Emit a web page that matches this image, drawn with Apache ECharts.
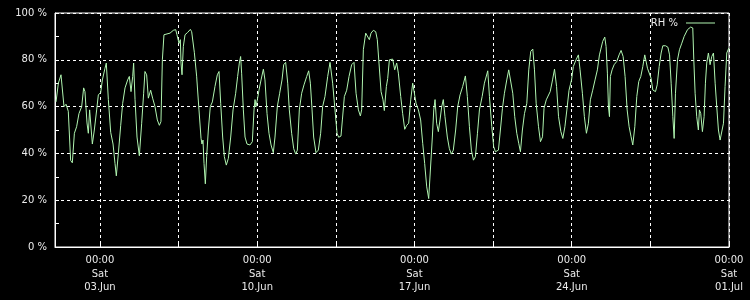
<!DOCTYPE html>
<html>
<head>
<meta charset="utf-8">
<script src="https://cdn.jsdelivr.net/npm/echarts@6/dist/echarts.min.js"></script>
<style>
html,body{margin:0;padding:0;background:#000;}
#chart{width:750px;height:300px;}
</style>
</head>
<body>
<div id="chart"></div>
<script>
// Hours since 2017-06-01 00:00 (UTC-agnostic)
var hours = [
1.1,3.6,6.4,7.8,9.6,11.8,14.2,16.7,18.5,20.7,23.1,25.6,28.5,30.6,32.0,34.2,35.6,37.0,38.1,39.9,
42.0,44.5,46.3,48.8,50.6,53.4,54.8,57.0,59.5,62.0,64.1,65.5,67.7,70.2,72.3,74.8,77.6,79.4,81.2,83.0,
84.0,85.5,87.6,90.1,92.6,94.7,96.1,97.9,99.7,102.2,104.3,106.8,109.3,111.5,113.2,114.7,116.4,118.2,122.9,126.4,
128.9,130.3,132.5,133.9,134.6,135.7,137.1,138.9,141.7,144.6,146.0,148.9,151.3,153.8,156.0,157.0,158.1,159.2,160.6,162.0,
163.8,165.9,168.1,170.9,173.4,175.2,177.0,179.1,180.9,183.0,185.2,187.7,190.2,193.0,195.1,196.9,198.3,199.4,201.2,203.0,
205.1,208.3,210.8,212.6,213.7,214.7,216.2,217.9,220.1,222.6,224.3,226.5,228.6,230.8,233.2,235.0,237.5,240.0,242.5,244.3,
246.4,248.6,250.3,252.8,255.0,257.1,258.9,261.0,263.5,266.0,268.9,271.0,272.8,274.6,276.3,278.8,281.3,283.8,285.9,288.4,
291.3,293.8,294.9,296.6,299.1,301.3,303.0,305.5,307.0,309.1,311.6,314.1,316.9,319.4,321.6,324.1,326.2,327.6,329.4,331.9,
334.0,335.8,337.6,340.1,342.6,344.3,346.1,348.3,350.4,351.8,354.0,355.4,357.2,357.9,360.7,362.9,365.0,366.8,369.3,371.4,
373.6,375.7,377.8,380.0,382.1,383.9,385.7,388.2,390.6,392.8,394.9,397.1,399.2,401.0,403.1,404.6,406.0,407.7,409.5,411.3,
413.1,414.8,416.6,419.1,421.3,423.4,425.5,428.0,430.2,432.7,435.5,438.4,440.5,442.7,444.8,447.0,449.1,451.3,453.4,456.3,
458.7,462.3,464.1,466.6,468.6,470.5,473.7,475.8,478.0,480.1,482.6,484.7,486.8,489.0,491.1,493.3,495.4,497.2,499.3,501.5,
504.0,506.1,508.2,510.4,512.2,514.0,516.5,518.6,520.8,522.4,524.8,526.7,529.0,531.5,533.6,535.8,537.9,540.4,542.5,544.7,
546.8,549.1,551.8,553.7,556.6,559.1,560.9,563.4,565.5,567.7,569.8,571.9,574.4,576.9,579.4,581.6,583.4,585.1,587.3,588.7,
590.1,591.2,592.3,593.3,595.1,597.3,600.1,602.6,604.7,606.9,609.0,611.2,613.3,615.4,617.2,619.4,621.5,623.6,625.8,627.9,
630.0,631.5,632.9,635.0,636.8,638.6,641.5,643.3,645.4,647.5,649.3,652.2,654.7,656.5,658.2,660.0,661.4,662.8,665.0,667.1,
669.6,672.1,675.7,679.1,681.3,682.4,683.8,685.5,687.3,688.4,689.8,691.6,693.4,694.8,696.2,698.0,699.8,701.6,703.4,705.2,
706.9,708.7,710.5,712.3,714.1,715.8,717.6,719.8
];
var rh = [
62,70,73.6,73,60,61,58,37,36,48.6,51.4,57,60,68,66.4,53,48.6,58.6,59,44,
50,58.6,65,66,71.4,76.4,78.6,63,49,44,35.7,30.4,40,52,61.4,68,71.4,72.9,66.4,72.9,
78.6,63,47,39,52.9,65.7,75,73.6,63.6,67,63.6,60,54.3,52,53.6,80,90.7,91.4,91.4,92.6,
92.9,90.7,87,88.6,78.6,73.6,85.7,90.7,91.7,93,92,83,73,58.6,46.4,44,45.7,35.7,27,38.6,
50,60,62,68.6,73.6,75,61.4,47,38.6,35,37.9,47,58.6,65.7,72.9,78.6,81.4,74,58.6,47,
44,43.6,45,58.6,63,60,63,67,71.4,76,71.4,57,48.6,43.6,40.3,47,60,65.7,71.4,77.9,
78.9,70,58.6,48.6,42,39.7,41.4,58.6,65.7,69.3,72.9,75.3,70,58.6,47,40.3,41.4,48.6,60,64.3,
72.9,78.9,79.7,70,58.6,48.6,46.9,47.4,54.3,64.3,67,72.9,77.9,78.9,65.7,58.6,56,58.6,84.3,91.4,
90.7,88.6,91.4,92.6,92,88.6,78.6,66.4,62.9,58.3,68.6,72,80,80,80.3,75.7,78.6,74.3,64.3,57,
50.3,52,52.9,62.9,70,70.7,61.4,58.6,54.3,44.3,35.7,25.7,20.7,32.9,47,58.6,63,52.9,49.3,54.3,
60,63,55.7,47,42,39.7,41.4,50,60,65,68.6,73.1,64.3,51.4,41.4,37.1,38.6,48.6,58.6,64.3,
70,75.3,64.3,51.4,42.9,40.7,41.4,50,59.3,65.7,71.4,75.7,76,65.7,55.7,48.6,44.3,40.7,50,57,
61.4,75.7,83.6,84.6,75.7,61.4,51.4,45,47.1,59.3,62.9,63.1,66.4,71.4,76,68.6,55.7,49.3,46.4,51.4,
58.6,67,71.4,77.1,80,82.1,75.7,65.7,55.7,48.6,52.9,62.9,67,71.4,75.7,82.1,81.4,87.9,89.7,85.7,
74.3,60,55.7,72.9,75.7,77.9,79.3,82.1,84,81.4,72.9,58.6,51.4,47.1,43.6,51.4,64.3,70.7,72.9,77.1,
82.1,82.9,76.4,75.7,72.1,67.1,66.4,69.3,77.1,82.9,86,86,85.4,82.1,70,55.7,46.4,65.7,80,84.3,
87.1,90,92.9,94,93.6,80,65.7,55.7,50,58.6,57.1,49.3,55.7,70,78.6,82.9,77.9,81.4,82.9,70,
60,50,45.7,46.4,52.9,68.6,82.9,85
];
var gridHours = [48,132,216,300,384,468,552,636,720];
var labelHours = [48,216,384,552,720];
var yTicks = [0,20,40,60,80,100];
var seriesName = 'RH %';

var days = ['Sun','Mon','Tue','Wed','Thu','Fri','Sat'];
var months = ['Jan','Feb','Mar','Apr','May','Jun','Jul','Aug','Sep','Oct','Nov','Dec'];
var startMs = Date.UTC(2017,5,1,0,0,0);
function pad(n){return (n<10?'0':'')+n;}
function fmtX(v){
  var d = new Date(startMs + v*3600000);
  return pad(d.getUTCHours())+':'+pad(d.getUTCMinutes())+'\n'+days[d.getUTCDay()]+'\n'+pad(d.getUTCDate())+'.'+months[d.getUTCMonth()];
}
var data = hours.map(function(h,i){return [h, rh[i]];});

var chart = echarts.init(document.getElementById('chart'), null, {renderer:'canvas'});
chart.setOption({
  backgroundColor:'#000',
  animation:false,
  grid:{left:55,right:21,top:13,bottom:53,show:true,borderColor:'#fff',borderWidth:1,backgroundColor:'transparent'},
  legend:{
    data:[seriesName], right:30, top:13, align:'right',
    itemWidth:29, itemHeight:10, itemGap:6,
    textStyle:{color:'#ebebeb', fontFamily:'DejaVu Sans', fontSize:10, padding:[0,3,0,0]},
    icon:'path://M0,5 L29,5 L29,6 L0,6 Z'
  },
  xAxis:{
    type:'value', min:0, max:720,
    axisLine:{show:true, lineStyle:{color:'#fff', width:1}},
    axisTick:{show:true, inside:true, length:4, customValues:gridHours, lineStyle:{color:'#fff'}},
    axisLabel:{customValues:labelHours, formatter:fmtX, color:'#ebebeb', fontFamily:'DejaVu Sans', fontSize:10, lineHeight:13.5, margin:7, showMinLabel:true, showMaxLabel:true},
    splitLine:{show:true, lineStyle:{color:'#fff', type:[3,3], width:1}}
  },
  yAxis:{
    type:'value', min:0, max:100, interval:20,
    axisLine:{show:true, lineStyle:{color:'#fff', width:1}},
    axisTick:{show:true, inside:true, length:4, lineStyle:{color:'#fff'}},
    minorTick:{show:true, splitNumber:2, length:4, lineStyle:{color:'#fff'}},
    axisLabel:{formatter:function(v){return v+' %';}, color:'#ebebeb', fontFamily:'DejaVu Sans', fontSize:10, margin:8},
    splitLine:{show:true, lineStyle:{color:'#fff', type:[3,3], width:1}}
  },
  series:[{
    name:seriesName, type:'line', data:data, symbol:'none', showSymbol:false,
    lineStyle:{color:'#b0f5b0', width:1}, itemStyle:{color:'#b0f5b0'}
  }]
});
</script>
</body>
</html>
